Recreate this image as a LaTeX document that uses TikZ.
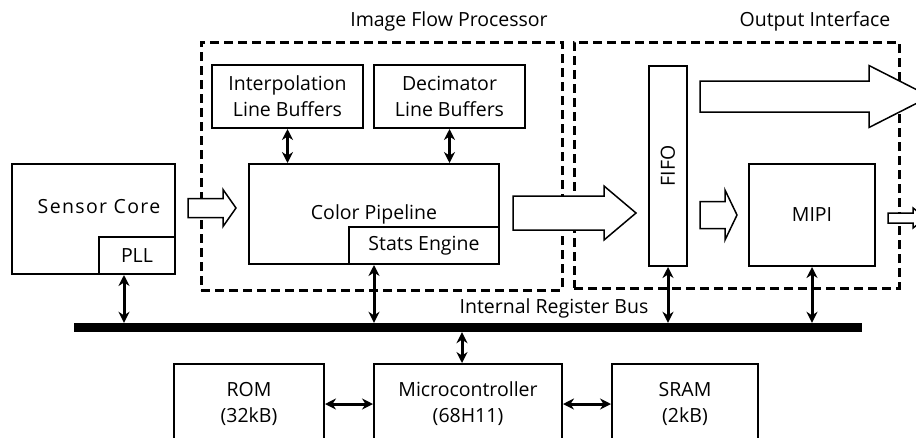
\documentclass[tikz,border=0pt]{standalone}
\usepackage{fontspec}
\setmainfont{Open Sans}
\usetikzlibrary{arrows.meta,calc}
\newcommand{\blockarr}[5]{%
  \draw[blockarrow] let \p1=#1, \p2=#2 in
    (\x1,\y1+#3) -- (\x2-#5,\y1+#3) -- (\x2-#5,\y1+#4) -- (\x2,\y1)
    -- (\x2-#5,\y1-#4) -- (\x2-#5,\y1-#3) -- (\x1,\y1-#3) -- cycle;}
\begin{document}
\begin{tikzpicture}[x=1pt,y=-1pt,
  font=\fontsize{19.5}{26}\selectfont,
  box/.style={draw, line width=2pt, inner sep=0pt, align=center},
  grp/.style={draw, line width=3pt, dash pattern=on 9pt off 5pt, inner sep=0pt},
  lab/.style={font=\fontsize{19.5}{22}\selectfont, inner sep=0pt},
  dbl/.style={line width=3pt, {Stealth[length=11pt,width=11pt]}-{Stealth[length=11pt,width=11pt]}},
  blockarrow/.style={draw, line width=1.5pt, fill=white, line join=miter}]
\useasboundingbox (0,0) rectangle (916,437);
% groups
\node[grp, minimum width=361pt, minimum height=248pt] (ifp) at (381.5,166) {};
\node[grp, minimum width=325pt, minimum height=246pt] (oi) at (736.5,165) {};
\node[lab] (ifplab) at (449,21) {Image Flow Processor};
\node[lab] (oilab) at (815,21) {Output Interface};
% boxes
\node[box, minimum width=163pt, minimum height=110pt] (sensor) at (93.5,219) {};
\node[inner sep=0pt] (sensortxt) at (99,207) {\addfontfeature{LetterSpace=7}Sensor Core};
\node[box, minimum width=76pt, minimum height=37pt] (pll) at (137,255.5) {PLL};
\node[box, minimum width=151pt, minimum height=63pt] (interp) at (287.5,96.5) {Interpolation\\Line Buffers};
\node[box, minimum width=151pt, minimum height=63pt] (decim) at (449.5,96.5) {Decimator\\Line Buffers};
\node[box, minimum width=250pt, minimum height=100pt] (color) at (374,214) {Color Pipeline};
\node[box, fill=white, minimum width=150pt, minimum height=37pt] (stats) at (424,245.5) {Stats Engine};
\node[box, minimum width=38pt, minimum height=200pt] (fifo) at (668,166) {};
\node[rotate=90, inner sep=0pt] (fifotxt) at (fifo.center) {FIFO};
\node[box, minimum width=126pt, minimum height=102pt] (mipi) at (812,215) {MIPI};
\node[fill=black, inner sep=0pt, minimum width=788pt, minimum height=9pt] (bus) at (468,327.5) {};
\node[lab] (buslab) at (554,308) {Internal Register Bus};
\node[box, minimum width=150pt, minimum height=80pt] (rom) at (249,404) {ROM\\(32kB)};
\node[box, minimum width=188pt, minimum height=80pt] (micro) at (468,404) {Microcontroller\\(68H11)};
\node[box, minimum width=146pt, minimum height=80pt] (sram) at (685,404) {SRAM\\(2kB)};
% double arrows
\draw[dbl] (interp.south) -- (interp.south |- color.north);
\draw[dbl] (decim.south) -- (decim.south |- color.north);
\draw[dbl] ([xshift=-13pt]pll.south) -- ([xshift=-13pt]pll.south |- bus.north);
\draw[dbl] (color.south) -- (color.south |- bus.north);
\draw[dbl] (fifo.south) -- (fifo.south |- bus.north);
\draw[dbl] (mipi.south) -- (mipi.south |- bus.north);
\draw[dbl] ([xshift=-6pt]micro.north |- bus.south) -- ([xshift=-6pt]micro.north);
\draw[dbl] (rom.east) -- (micro.west);
\draw[dbl] (micro.east) -- (sram.west);
% block arrows
\blockarr{([xshift=12pt,yshift=11pt]sensor.east)}{([xshift=-12pt]color.west)}{9.5pt}{18.5pt}{13pt}
\blockarr{([xshift=13pt,yshift=1pt]color.east)}{([xshift=-12pt]fifo.west)}{17pt}{27pt}{32pt}
\blockarr{([xshift=12pt]fifo.east |- mipi.west)}{([xshift=-11pt]mipi.west)}{13.5pt}{25pt}{12pt}
\blockarr{([xshift=12pt]fifo.east |- interp.center)}{([xshift=54pt]mipi.east)}{15.5pt}{31pt}{61pt}
\blockarr{([xshift=12pt,yshift=-3pt]mipi.east)}{([xshift=50pt]mipi.east)}{5pt}{10pt}{13pt}
\end{tikzpicture}
\end{document}
